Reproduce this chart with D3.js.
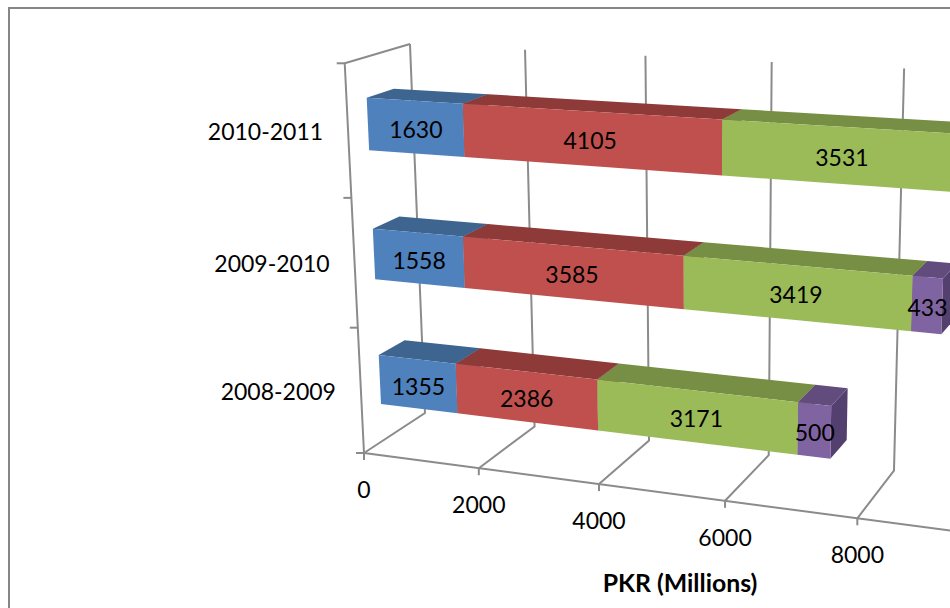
<!DOCTYPE html>
<html>
<head>
<meta charset="utf-8">
<script src="https://cdn.jsdelivr.net/npm/d3@7/dist/d3.min.js"></script>
<style>
  html, body { margin: 0; padding: 0; background: #fff; overflow: hidden; }
  svg { display: block; }
  text { font-family: Lato, "Open Sans", sans-serif; fill: #000; }
</style>
</head>
<body>
<svg id="chart" width="950" height="608"></svg>
<script>
// Yearly allocation in PKR millions, one stacked 3D bar per fiscal year.
const categories = ["2008-2009", "2009-2010", "2010-2011"];
const seriesA = [1355, 1558, 1630];
const seriesB = [2386, 3585, 4105];
const seriesC = [3171, 3419, 3531];
const seriesD = [500, 433, null];
const valueTicks = [0, 2000, 4000, 6000, 8000];
const axisTitle = "PKR (Millions)";

const palette = [
  { front: "#4f81bd", top: "#3e6490", side: "#365780" },
  { front: "#c0504d", top: "#8e3a38", side: "#7d3331" },
  { front: "#9bbb59", top: "#778f44", side: "#677c3a" },
  { front: "#8064a2", top: "#624c7d", side: "#54406e" }
];
const axisColor = "#8b8b8b";

const svg = d3.select("#chart");

// Normalised box coordinates: u along the value axis, d into the depth, h up the wall.
const uScale = d3.scaleLinear().domain([0, 8000]).range([0, 1]);
const hScale = d3.scaleBand().domain(categories).range([0, 1])
  .paddingInner(0.604).paddingOuter(0.302);
const depthFront = 0.295, depthBack = 0.715;

// Perspective camera for the chart box.
function project(u, d, h) {
  const w = 1 - 0.0902 * u + 0.0589 * d - 0.052 * h;
  return [
    (364 + 416 * u + 86 * d - 37.2 * h) / w,
    (453 + 18.55 * u - 15.7 * d - 393 * h) / w
  ];
}

const outline = d3.line().curve(d3.curveLinearClosed);
const segment = d3.line();

// Chart frame
svg.append("rect")
  .attr("x", 9).attr("y", 8).attr("width", 1100).attr("height", 800)
  .attr("fill", "#fff").attr("stroke", "#868686").attr("stroke-width", 2);

const grid = svg.append("g")
  .attr("fill", "none").attr("stroke", axisColor).attr("stroke-width", 2);

// Gridlines across the floor and up the back wall
grid.selectAll("path.grid")
  .data(valueTicks)
  .join("path")
  .attr("class", "grid")
  .attr("stroke-linejoin", "miter")
  .attr("d", v => {
    const u = uScale(v);
    return segment([project(u, 0, 0), project(u, 1, 0), project(u, 1, 1)]);
  });

// Side wall outline and the front edge of the floor
grid.append("path").attr("d", segment([project(0, 0, 0), project(0, 0, 1), project(0, 1, 1)]));
grid.append("path").attr("d", segment([project(0, 0, 0), project(uScale(10000), 0, 0)]));

// Value ticks under the floor edge
grid.selectAll("path.vtick")
  .data(valueTicks)
  .join("path")
  .attr("class", "vtick")
  .attr("d", v => {
    const p = project(uScale(v), 0, 0);
    return segment([p, [p[0], p[1] + 7]]);
  });

// Category ticks on the wall edge
grid.selectAll("path.ctick")
  .data([0, 1 / 3, 2 / 3, 1])
  .join("path")
  .attr("class", "ctick")
  .attr("d", h => {
    const p = project(0, 0, h);
    return segment([p, [p[0] - 8, p[1]]]);
  });

// Stacked bars
const allSeries = [seriesA, seriesB, seriesC, seriesD];
const bars = svg.append("g");
const labels = [];

categories.slice().reverse().forEach(cat => {
  const row = categories.indexOf(cat);
  const h0 = hScale(cat), h1 = h0 + hScale.bandwidth();
  let running = 0;
  allSeries.forEach((series, s) => {
    const value = series[row];
    if (value == null) return;
    const u0 = uScale(running), u1 = uScale(running + value);
    const c = palette[s];
    bars.append("path").attr("fill", c.side).attr("d", outline([
      project(u1, depthFront, h0), project(u1, depthBack, h0),
      project(u1, depthBack, h1), project(u1, depthFront, h1)
    ]));
    bars.append("path").attr("fill", c.top).attr("d", outline([
      project(u0, depthFront, h1), project(u0, depthBack, h1),
      project(u1, depthBack, h1), project(u1, depthFront, h1)
    ]));
    bars.append("path").attr("fill", c.front).attr("d", outline([
      project(u0, depthFront, h0), project(u0, depthFront, h1),
      project(u1, depthFront, h1), project(u1, depthFront, h0)
    ]));
    labels.push({ value, at: project(uScale(running + value / 2), depthFront, (h0 + h1) / 2) });
    running += value;
  });
});

// Data labels sit on the front face of each segment
svg.append("g").selectAll("text")
  .data(labels)
  .join("text")
  .attr("x", d => d.at[0] + 0.5)
  .attr("y", d => d.at[1] + 10.5)
  .attr("text-anchor", "middle")
  .attr("font-size", 23)
  .text(d => d.value);

// Value axis labels
svg.append("g").selectAll("text")
  .data(valueTicks)
  .join("text")
  .attr("x", v => project(uScale(v), 0, 0)[0])
  .attr("y", v => project(uScale(v), 0, 0)[1] + 45)
  .attr("text-anchor", "middle")
  .attr("font-size", 23)
  .text(v => v);

// Category labels
svg.append("g").selectAll("text")
  .data(categories)
  .join("text")
  .attr("x", c => project(0, 0, hScale(c) + hScale.bandwidth() / 2)[0] - 25)
  .attr("y", c => project(0, 0, hScale(c) + hScale.bandwidth() / 2)[1] + 9)
  .attr("text-anchor", "end")
  .attr("font-size", 23)
  .text(c => c);

// Value axis title
svg.append("text")
  .attr("x", 680).attr("y", 592)
  .attr("text-anchor", "middle")
  .attr("font-size", 24.8)
  .attr("font-weight", 700)
  .text(axisTitle);
</script>
</body>
</html>
